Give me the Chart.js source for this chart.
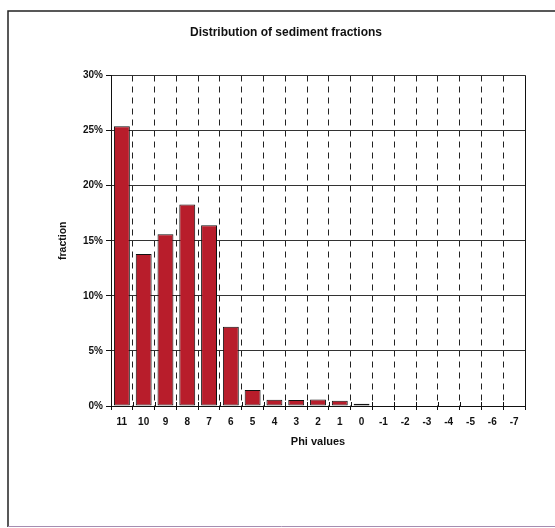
<!DOCTYPE html>
<html>
<head>
<meta charset="utf-8">
<script src="https://cdn.jsdelivr.net/npm/chart.js@4/dist/chart.umd.min.js"></script>
<style>
  html, body { margin: 0; padding: 0; background: #fff; }
  #wrap { width: 555px; height: 528px; position: relative; }
</style>
</head>
<body>
<div id="wrap"><canvas id="c" width="555" height="528"></canvas></div>
<script>
const categories = ['11','10','9','8','7','6','5','4','3','2','1','0','-1','-2','-3','-4','-5','-6','-7'];
const fractions = [0.254, 0.138, 0.156, 0.183, 0.164, 0.072, 0.0145, 0.0057, 0.0055, 0.006, 0.0048, 0.002, 0, 0, 0, 0, 0, 0, 0];
const yTicks = [0, 0.05, 0.10, 0.15, 0.20, 0.25, 0.30];
const titleText = 'Distribution of sediment fractions';
const xTitle = 'Phi values';
const yTitle = 'fraction';

const FONT = "'Liberation Sans', Arial, sans-serif";

const framePlugin = {
  id: 'frame',
  beforeDraw(chart) {
    const ctx = chart.ctx;
    ctx.save();
    ctx.fillStyle = '#fff';
    ctx.fillRect(0, 0, chart.width, chart.height);
    ctx.lineWidth = 1.5;
    ctx.strokeStyle = '#222';
    ctx.beginPath();
    ctx.moveTo(555, 11);
    ctx.lineTo(8, 11);
    ctx.lineTo(8, 527);
    ctx.stroke();
    ctx.strokeStyle = '#a58db0';
    ctx.lineWidth = 1;
    ctx.beginPath();
    ctx.moveTo(8, 526.5);
    ctx.lineTo(555, 526.5);
    ctx.stroke();
    ctx.restore();
  },
  afterDraw(chart) {
    const ctx = chart.ctx;
    const a = chart.chartArea;
    const xs = chart.scales.x;
    ctx.save();
    ctx.setLineDash([]);
    ctx.strokeStyle = '#111';
    ctx.lineWidth = 1;
    const L = Math.round(a.left) + 0.5, R = Math.round(a.right) + 0.5;
    const B = Math.round(a.bottom) + 0.5;
    // right and left border of plot, bottom axis
    ctx.beginPath();
    ctx.moveTo(R, a.top);
    ctx.lineTo(R, a.bottom);
    ctx.moveTo(L, a.top);
    ctx.lineTo(L, a.bottom);
    ctx.moveTo(a.left, B);
    ctx.lineTo(a.right + 1, B);
    ctx.stroke();
    // inner parts of crossing tick marks at category boundaries
    const step = xs.getPixelForValue(1) - xs.getPixelForValue(0);
    for (let i = 0; i <= categories.length; i++) {
      const px = Math.round(xs.getPixelForValue(i) - step / 2) + 0.5;
      ctx.beginPath();
      ctx.moveTo(px, a.bottom - 4);
      ctx.lineTo(px, a.bottom);
      ctx.stroke();
    }
    ctx.restore();
  }
};

new Chart(document.getElementById('c'), {
  type: 'bar',
  data: {
    labels: categories,
    datasets: [{
      data: fractions,
      backgroundColor: '#b81d2b',
      borderColor: '#111',
      borderWidth: 1,
      borderSkipped: false,
      barPercentage: 0.73,
      categoryPercentage: 1.0
    }]
  },
  options: {
    responsive: false,
    animation: false,
    devicePixelRatio: 1,
    layout: { padding: { top: 10, left: 47, right: 30, bottom: 79 } },
    plugins: {
      legend: { display: false },
      tooltip: { enabled: false },
      title: {
        display: true,
        text: titleText,
        color: '#111',
        font: { family: FONT, size: 12, weight: 'bold' },
        padding: { top: 15.8, bottom: 35.3 }
      }
    },
    scales: {
      x: {
        afterFit(scale) { scale.height = 43; },
        grid: {
          display: true,
          offset: true,
          color: '#222',
          lineWidth: 1,
          drawTicks: true,
          tickLength: 4,
          tickColor: '#111',
          tickBorderDash: []
        },
        border: { display: true, color: '#111', width: 1, dash: [6, 5] },
        ticks: {
          color: '#111',
          padding: 6,
          maxRotation: 0,
          autoSkip: false,
          font: { family: FONT, size: 10, weight: 'bold' }
        },
        title: {
          display: true,
          text: xTitle,
          color: '#111',
          font: { family: FONT, size: 11, weight: 'bold' },
          padding: { top: 0, bottom: 0 }
        }
      },
      y: {
        min: 0,
        max: 0.3,
        afterFit(scale) { scale.width = 64; },
        afterBuildTicks(scale) { scale.ticks = yTicks.map(v => ({ value: v })); },
        grid: {
          display: true,
          color: '#333',
          lineWidth: 1,
          drawTicks: true,
          tickLength: 5,
          tickColor: '#111'
        },
        border: { display: true, color: '#111', width: 1 },
        ticks: {
          color: '#111',
          padding: 3,
          font: { family: FONT, size: 10, weight: 'bold' },
          callback: (v) => Math.round(v * 100) + '%'
        },
        title: {
          display: true,
          text: yTitle,
          color: '#111',
          font: { family: FONT, size: 10.5, weight: 'bold' },
          padding: { top: 9.7, bottom: 0 }
        }
      }
    }
  },
  plugins: [framePlugin]
});
</script>
</body>
</html>
